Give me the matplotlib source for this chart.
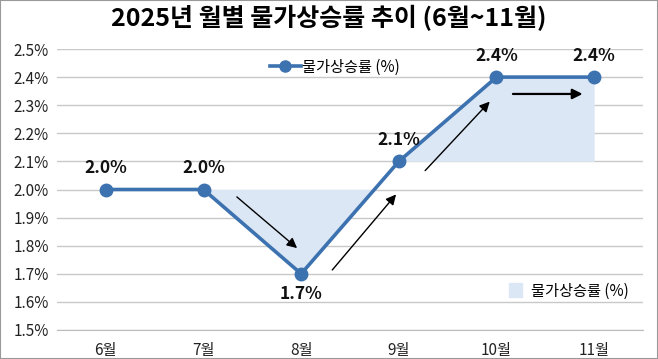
import matplotlib
matplotlib.use("Agg")
import matplotlib.pyplot as plt
import numpy as np
from matplotlib.patches import Patch
from matplotlib.lines import Line2D

plt.rcParams['font.family'] = ['Noto Sans CJK KR', 'DejaVu Sans']

months = ['6월', '7월', '8월', '9월', '10월', '11월']
rates = [2.0, 2.0, 1.7, 2.1, 2.4, 2.4]
labels = ['2.0%', '2.0%', '1.7%', '2.1%', '2.4%', '2.4%']
yticks = [1.5, 1.6, 1.7, 1.8, 1.9, 2.0, 2.1, 2.2, 2.3, 2.4, 2.5]

line_color = '#3d72b0'
fill_color = '#dce7f5'

fig = plt.figure(figsize=(6.58, 3.59), dpi=100)
ax = fig.add_axes([57/658, 1 - 330/359, (643-57)/658, (330-49)/359])

x = np.arange(len(months))

# shaded regions
xs1 = [1, 2, 2.75]
ys1 = [rates[1], rates[2], 2.0]
ax.fill_between(xs1, ys1, 2.0, color=fill_color, lw=0, zorder=1)
xs2 = [3, 4, 5]
ys2 = [rates[3], rates[4], rates[5]]
ax.fill_between(xs2, ys2, rates[3], color=fill_color, lw=0, zorder=1)

ax.plot(x, rates, color=line_color, lw=2.6, marker='o', markersize=9,
        markerfacecolor=line_color, markeredgecolor=line_color, zorder=3)

offsets = [(0, 9), (0, 9), (0, -8), (0, 9), (0, 9), (0, 9)]
for xi, yi, lab, off in zip(x, rates, labels, offsets):
    ax.annotate(lab, (xi, yi), xytext=off, textcoords='offset points',
                ha='center', va='bottom' if off[1] > 0 else 'top',
                fontsize=12.5, fontweight='bold', color='#111111')

# arrows
arrow_specs = [
    ((1.32, 1.98), (1.98, 1.785), 1.0, 15),
    ((2.30, 1.706), (2.99, 1.99), 1.0, 15),
    ((3.25, 2.06), (3.95, 2.32), 1.0, 15),
    ((4.14, 2.34), (4.91, 2.34), 1.6, 15),
]
for start, end, lw, ms in arrow_specs:
    ax.annotate('', xy=end, xytext=start,
                arrowprops=dict(arrowstyle='-|>', color='black', lw=lw,
                                mutation_scale=ms), zorder=4)

ax.set_xlim(-0.5, 5.5)
ax.set_ylim(1.5, 2.5)
ax.set_yticks(yticks)
ax.set_yticklabels([f'{v:.1f}%' for v in yticks], fontsize=11, color='#222222')
ax.set_xticks(x)
ax.set_xticklabels(months, fontsize=11, color='#222222')
ax.tick_params(axis='y', length=0, pad=6)
ax.tick_params(axis='x', length=0, pad=9)
ax.grid(axis='y', color='#c8c8c8', lw=1)
ax.set_axisbelow(True)
for s in ['top', 'right', 'left']:
    ax.spines[s].set_visible(False)
ax.spines['bottom'].set_color('#bbbbbb')

fig.suptitle('2025년 월별 물가상승률 추이 (6월~11월)', fontsize=18, fontweight='bold',
             y=0.985)

h1 = Line2D([0], [0], color=line_color, lw=2.6, marker='o', markersize=8)
leg1 = ax.legend([h1], ['물가상승률 (%)'], loc='upper left', bbox_to_anchor=(0.34, 1.015),
                 frameon=False, fontsize=11, handlelength=2.0, handletextpad=0.1)
ax.add_artist(leg1)
h2 = Patch(color=fill_color)
ax.legend([h2], ['물가상승률 (%)'], loc='lower right', bbox_to_anchor=(1.0, 0.06),
          frameon=False, fontsize=11, handlelength=0.9, handleheight=1.0, handletextpad=0.6)

fig.patches.append(plt.Rectangle((0, 0), 1, 1, transform=fig.transFigure, fill=False,
                                 edgecolor='#999999', lw=1.5))
fig.savefig('out.png', dpi=100)
